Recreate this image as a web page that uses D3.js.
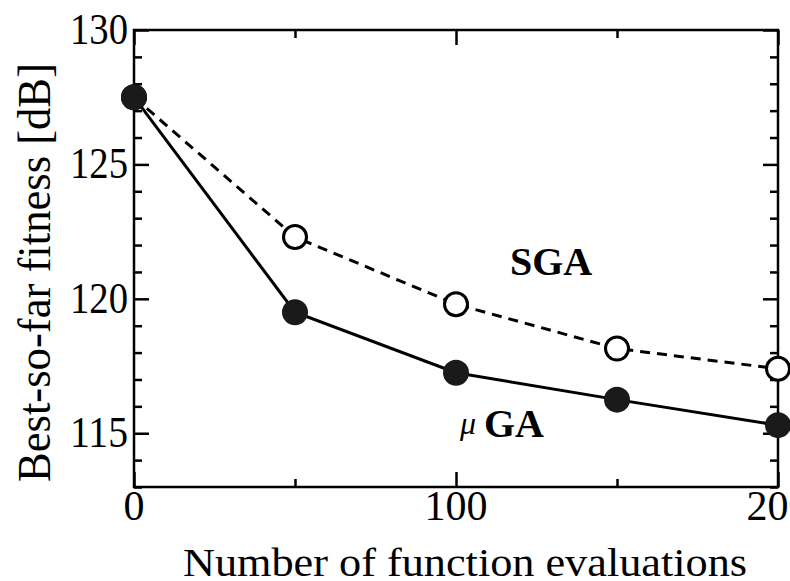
<!DOCTYPE html>
<html>
<head>
<meta charset="utf-8">
<script src="https://cdn.jsdelivr.net/npm/d3@7"></script>
</head>
<body style="margin:0">
<script>
// data
const evals = [0, 50, 100, 150, 200]
const sga = [127.5, 122.3, 119.8, 118.15, 117.4]
const mga = [127.5, 119.5, 117.25, 116.25, 115.3]
const xTicks = [0, 100, 200]
const xMinor = [50, 150]
const yTicks = [115, 120, 125, 130]
const yMinor = d3.range(113, 131)

const w = 790
const h = 581
const padL = 134, padR = 778, padT = 30, padB = 487
const serif = "'Liberation Serif'"

const xscale = d3.scaleLinear().domain([0, 200]).range([padL, padR])
const yscale = d3.scaleLinear().domain([113, 130]).range([padB, padT])

const svg = d3.select("body").append("svg")
  .attr("width", w)
  .attr("height", h)
  .style("display", "block")

// frame
svg.append("rect")
  .attr("x", padL).attr("y", padT)
  .attr("width", padR - padL).attr("height", padB - padT)
  .attr("fill", "none").attr("stroke", "#000").attr("stroke-width", 2.5)

// inward ticks on all four sides
function ticks(g, axis) {
  g.call(axis)
  g.select(".domain").remove()
  g.selectAll(".tick line").attr("stroke", "#000").attr("stroke-width", 2.5)
}

const minorY = yMinor.filter(v => v % 5 !== 0)

svg.append("g").attr("transform", "translate(" + padL + ",0)")
  .call(g => ticks(g, d3.axisRight(yscale).tickValues(yTicks).tickSize(15).tickFormat("")))
svg.append("g").attr("transform", "translate(" + padL + ",0)")
  .call(g => ticks(g, d3.axisRight(yscale).tickValues(minorY).tickSize(8).tickFormat("")))
svg.append("g").attr("transform", "translate(" + padR + ",0)")
  .call(g => ticks(g, d3.axisLeft(yscale).tickValues(yTicks).tickSize(15).tickFormat("")))
svg.append("g").attr("transform", "translate(" + padR + ",0)")
  .call(g => ticks(g, d3.axisLeft(yscale).tickValues(minorY).tickSize(8).tickFormat("")))

svg.append("g").attr("transform", "translate(0," + padB + ")")
  .call(g => ticks(g, d3.axisTop(xscale).tickValues(xTicks).tickSize(15).tickFormat("")))
svg.append("g").attr("transform", "translate(0," + padB + ")")
  .call(g => ticks(g, d3.axisTop(xscale).tickValues(xMinor).tickSize(8).tickFormat("")))
svg.append("g").attr("transform", "translate(0," + padT + ")")
  .call(g => ticks(g, d3.axisBottom(xscale).tickValues(xTicks).tickSize(15).tickFormat("")))
svg.append("g").attr("transform", "translate(0," + padT + ")")
  .call(g => ticks(g, d3.axisBottom(xscale).tickValues(xMinor).tickSize(8).tickFormat("")))

// all text in one group
const txt = svg.append("g")

// tick labels
txt.selectAll(".ylab")
  .data(yTicks)
  .enter()
  .append("text")
  .attr("class", "ylab")
  .attr("x", padL - 6)
  .attr("y", d => yscale(d) + 14)
  .attr("text-anchor", "end")
  .attr("font-size", 44)
  .attr("textLength", 58)
  .attr("lengthAdjust", "spacingAndGlyphs")
  .style("font-family", serif)
  .text(d => d)

txt.selectAll(".xlab")
  .data(xTicks)
  .enter()
  .append("text")
  .attr("class", "xlab")
  .attr("x", d => xscale(d))
  .attr("y", 520)
  .attr("text-anchor", "middle")
  .attr("font-size", 42)
  .style("font-family", serif)
  .text(d => d)

// axis titles
txt.append("text")
  .attr("x", 183).attr("y", 576)
  .attr("font-size", 40)
  .attr("textLength", 564)
  .attr("lengthAdjust", "spacingAndGlyphs")
  .style("font-family", serif)
  .text("Number of function evaluations")

txt.append("text")
  .attr("transform", "translate(50,482) rotate(-90)")
  .attr("font-size", 46)
  .attr("textLength", 419)
  .attr("lengthAdjust", "spacingAndGlyphs")
  .style("font-family", serif)
  .text("Best-so-far fitness [dB]")

// series
const line = d3.line()
  .x((d, i) => xscale(evals[i]))
  .y(d => yscale(d))

svg.append("path")
  .attr("d", line(sga))
  .attr("fill", "none").attr("stroke", "#000")
  .attr("stroke-width", 3).attr("stroke-dasharray", "10,7")

svg.selectAll(".sga")
  .data(sga)
  .enter()
  .append("circle")
  .attr("class", "sga")
  .attr("cx", (d, i) => xscale(evals[i]))
  .attr("cy", d => yscale(d))
  .attr("r", 11.5)
  .attr("fill", "#fff").attr("stroke", "#000").attr("stroke-width", 3)

svg.append("path")
  .attr("d", line(mga))
  .attr("fill", "none").attr("stroke", "#000")
  .attr("stroke-width", 3)

svg.selectAll(".mga")
  .data(mga)
  .enter()
  .append("circle")
  .attr("class", "mga")
  .attr("cx", (d, i) => xscale(evals[i]))
  .attr("cy", d => yscale(d))
  .attr("r", 13)
  .attr("fill", "#1a1a1a")

// series labels
svg.append("text")
  .attr("x", 510).attr("y", 275)
  .attr("font-size", 40).attr("font-weight", "bold")
  .style("font-family", serif)
  .text("SGA")

svg.append("text")
  .attr("x", 460).attr("y", 434)
  .attr("font-size", 32).attr("font-style", "italic")
  .style("font-family", serif)
  .text("μ")

svg.append("text")
  .attr("x", 484).attr("y", 437)
  .attr("font-size", 40).attr("font-weight", "bold")
  .style("font-family", serif)
  .text("GA")
</script>
</body>
</html>
